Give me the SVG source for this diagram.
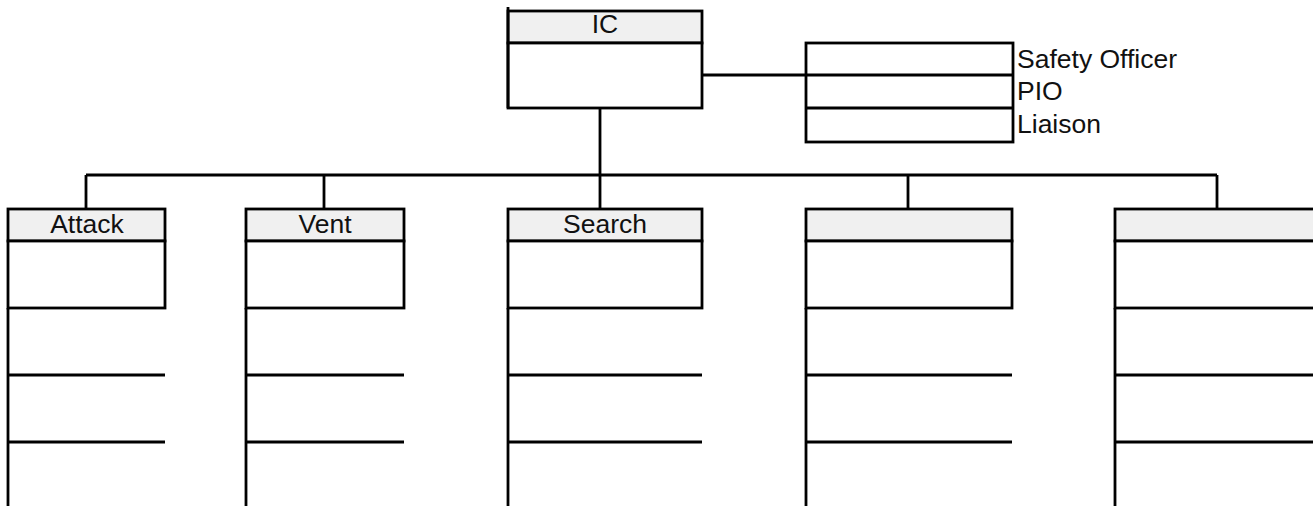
<svg xmlns="http://www.w3.org/2000/svg" width="1313" height="506" viewBox="0 0 1313 506">
<style>
.ln{stroke:#000;stroke-width:2.8;fill:none}
.hd{fill:#f0f0f0;stroke:#000;stroke-width:2.8}
.bd{fill:#fff;stroke:#000;stroke-width:2.8}
.t{font-family:"Liberation Sans",Arial,sans-serif;font-size:26.5px;fill:#111}
.c{text-anchor:middle}
</style>
<rect width="1313" height="506" fill="#fff"/>
<g id="connectors">
<line class="ln" x1="702" y1="75" x2="806" y2="75"/>
<line class="ln" x1="600" y1="108" x2="600" y2="175"/>
<line class="ln" x1="86" y1="175" x2="1217" y2="175"/>
<line class="ln" x1="86" y1="175" x2="86" y2="209"/>
<line class="ln" x1="324" y1="175" x2="324" y2="209"/>
<line class="ln" x1="600" y1="175" x2="600" y2="209"/>
<line class="ln" x1="908" y1="175" x2="908" y2="209"/>
<line class="ln" x1="1217" y1="175" x2="1217" y2="209"/>
</g>
<g id="ic">
<rect class="hd" x="508" y="11" width="194" height="32"/>
<rect class="bd" x="508" y="43" width="194" height="65"/>
<line class="ln" x1="508" y1="7" x2="508" y2="108"/>
<text class="t c" x="605" y="33">IC</text>
</g>
<g id="staff">
<rect class="bd" x="806" y="43" width="207" height="99"/>
<line class="ln" x1="806" y1="75" x2="1013" y2="75"/>
<line class="ln" x1="806" y1="108" x2="1013" y2="108"/>
<text class="t" x="1017" y="68">Safety Officer</text>
<text class="t" x="1017" y="100">PIO</text>
<text class="t" x="1017" y="133">Liaison</text>
</g>
<g id="attack">
<rect class="hd" x="8" y="209" width="157" height="32"/>
<rect class="bd" x="8" y="241" width="157" height="67"/>
<line class="ln" x1="8" y1="308" x2="8" y2="506"/>
<line class="ln" x1="8" y1="375" x2="165" y2="375"/>
<line class="ln" x1="8" y1="442" x2="165" y2="442"/>
<text class="t c" x="87" y="233">Attack</text>
</g>
<g id="vent">
<rect class="hd" x="246" y="209" width="158" height="32"/>
<rect class="bd" x="246" y="241" width="158" height="67"/>
<line class="ln" x1="246" y1="308" x2="246" y2="506"/>
<line class="ln" x1="246" y1="375" x2="404" y2="375"/>
<line class="ln" x1="246" y1="442" x2="404" y2="442"/>
<text class="t c" x="325" y="233">Vent</text>
</g>
<g id="search">
<rect class="hd" x="508" y="209" width="194" height="32"/>
<rect class="bd" x="508" y="241" width="194" height="67"/>
<line class="ln" x1="508" y1="308" x2="508" y2="506"/>
<line class="ln" x1="508" y1="375" x2="702" y2="375"/>
<line class="ln" x1="508" y1="442" x2="702" y2="442"/>
<text class="t c" x="605" y="233">Search</text>
</g>
<g id="col4">
<rect class="hd" x="806" y="209" width="206" height="32"/>
<rect class="bd" x="806" y="241" width="206" height="67"/>
<line class="ln" x1="806" y1="308" x2="806" y2="506"/>
<line class="ln" x1="806" y1="375" x2="1012" y2="375"/>
<line class="ln" x1="806" y1="442" x2="1012" y2="442"/>
</g>
<g id="col5">
<rect class="hd" x="1115" y="209" width="210" height="32"/>
<rect class="bd" x="1115" y="241" width="210" height="67"/>
<line class="ln" x1="1115" y1="308" x2="1115" y2="506"/>
<line class="ln" x1="1115" y1="375" x2="1325" y2="375"/>
<line class="ln" x1="1115" y1="442" x2="1325" y2="442"/>
</g>
</svg>
